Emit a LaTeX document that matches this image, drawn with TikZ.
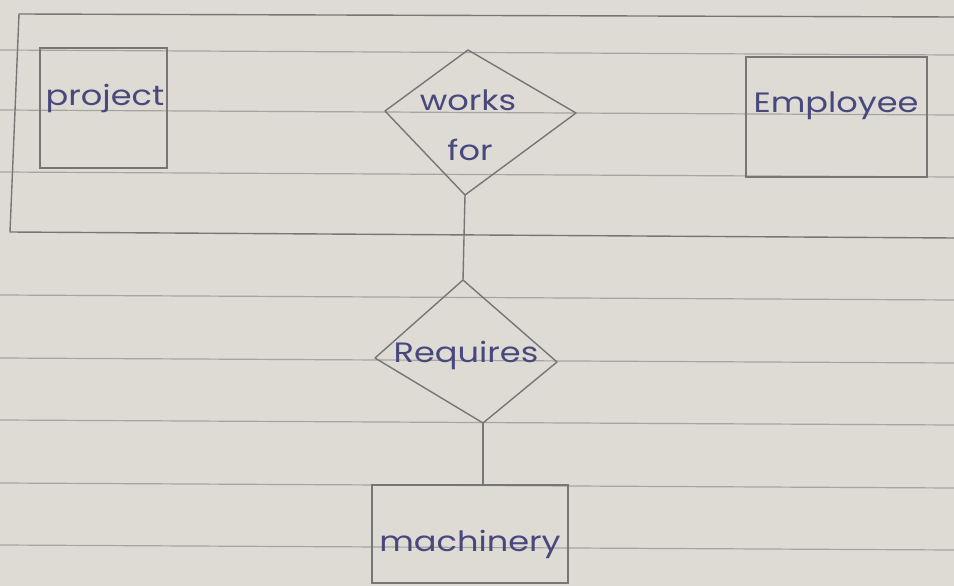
\documentclass[tikz,border=0pt]{standalone}
\usepackage{graphicx}
\usepackage{fontspec}
\setmainfont{Poppins}
\definecolor{paper}{RGB}{222,219,213}
\definecolor{rulec}{RGB}{165,164,160}
\definecolor{pencil}{RGB}{118,118,116}
\definecolor{ink}{RGB}{72,72,125}
\newcommand{\handtext}[1]{\scalebox{1.2}[1]{#1}}
\begin{document}
\begin{tikzpicture}[x=1pt,y=-1pt,
  paperline/.style={rulec, line width=1.2pt},
  pen/.style={pencil, line width=1.4pt, line join=round},
  entity/.style={draw=pencil, line width=1.4pt, rectangle, inner sep=0pt},
  hand/.style={text=ink, font=\fontsize{28}{30}\selectfont, inner sep=0pt}]
\fill[paper] (0,0) rectangle (954,586);
\useasboundingbox (0,0) rectangle (954,586);
% notebook rules
\foreach \yy in {50,110,172,295,358,420,483,545}
  \draw[paperline] (0,\yy) -- (954,\yy+5);
% aggregation box (open to the right)
\draw[pen] (954,17) -- (19,14) -- (10,232) -- (954,238);
% entities
\node[entity, minimum width=127pt, minimum height=120pt] (project) at (103.5,108) {};
\node[hand] (projectText) at (105,98) {\handtext{project}};
\node[entity, minimum width=181pt, minimum height=120pt] (employee) at (836.5,117) {};
\node[hand] (employeeText) at (836,106) {\handtext{Employee}};
\node[entity, minimum width=196pt, minimum height=98pt] (machinery) at (470,534) {};
\node[hand] (machineryText) at (470,544) {\handtext{machinery}};
% relationship: works for
\coordinate (wL) at (385,111);
\coordinate (wT) at (468,50);
\coordinate (wR) at (576,113);
\coordinate (wB) at (465,195);
\draw[pen] (wL) -- (wT) -- (wR) -- (wB) -- cycle;
\node[hand] (worksText) at (468,100) {\handtext{works}};
\node[hand] (forText) at (470,150) {\handtext{for}};
% relationship: requires
\coordinate (rL) at (375,358);
\coordinate (rT) at (463,280);
\coordinate (rR) at (557,362);
\coordinate (rB) at (483,423);
\draw[pen] (rL) -- (rT) -- (rR) -- (rB) -- cycle;
\node[hand] (requiresText) at (466,355) {\handtext{Requires}};
% connectors
\draw[pen] (wB) -- (rT);
\draw[pen] (rB) -- (rB |- machinery.north);
\end{tikzpicture}
\end{document}
